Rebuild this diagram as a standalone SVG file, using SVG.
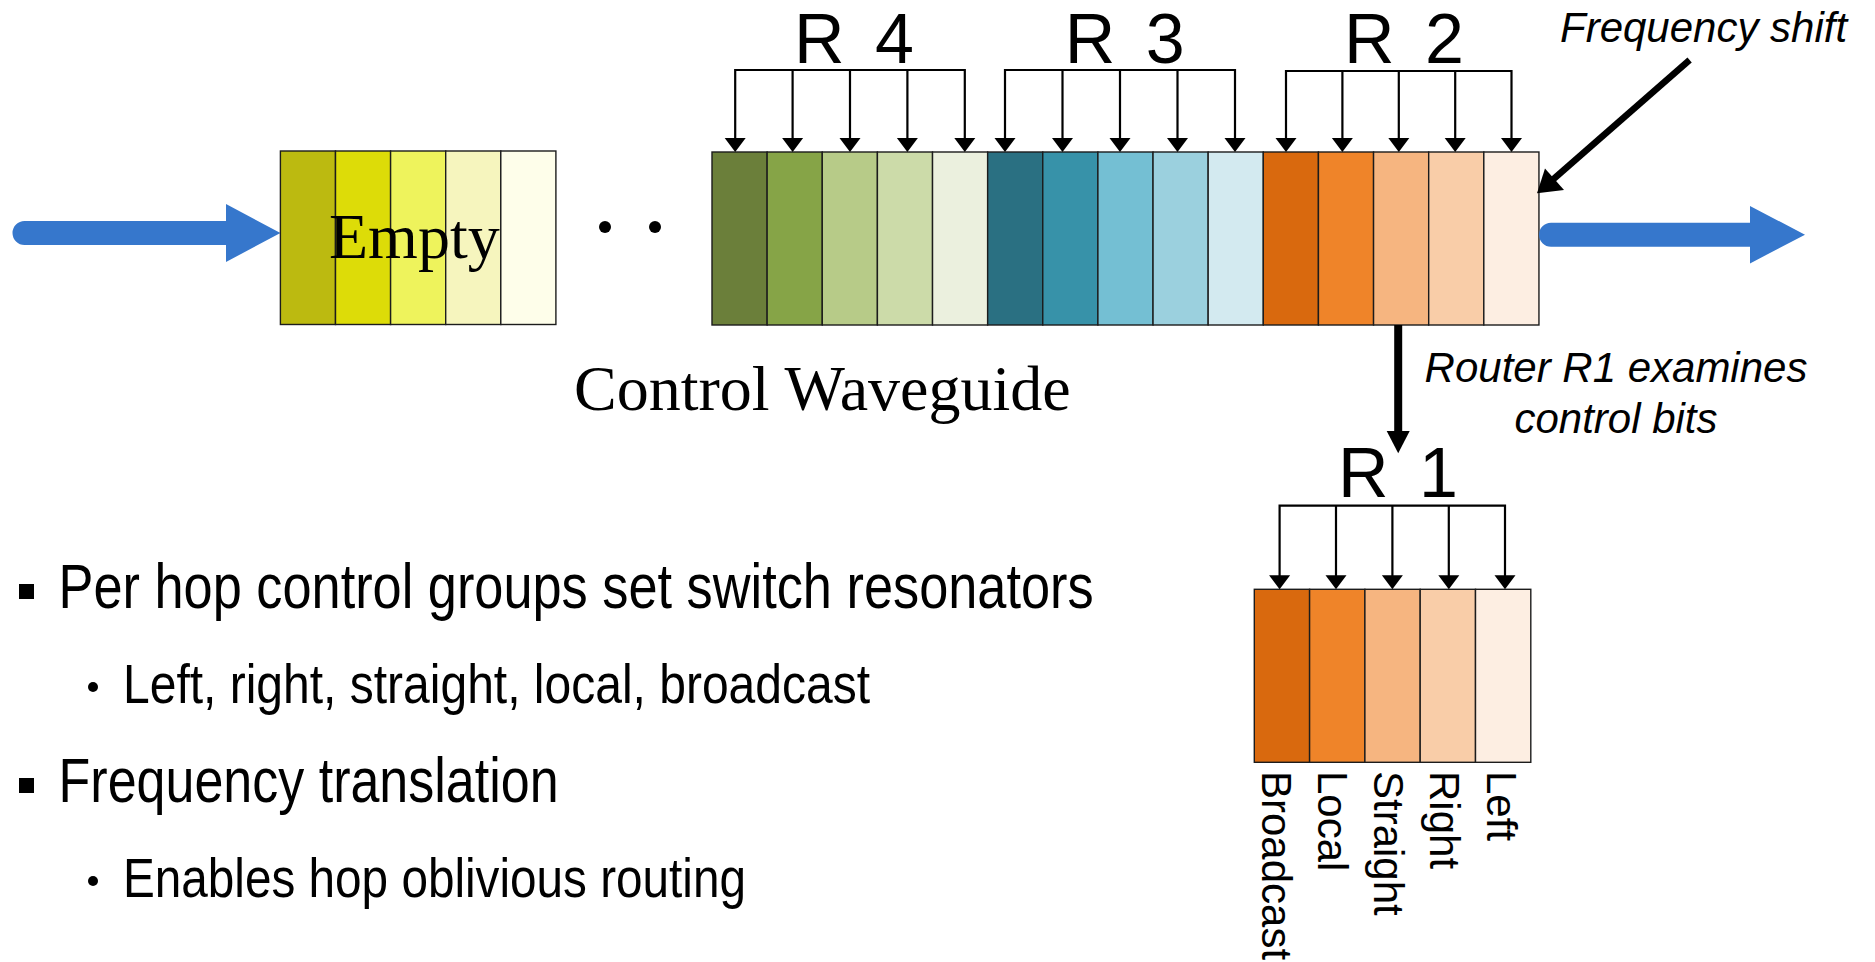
<svg xmlns="http://www.w3.org/2000/svg" width="1875" height="962" viewBox="0 0 1875 962">
  <style>
    .cell { stroke: #1c1c1c; stroke-width: 1.4; }
    .flow { fill: #3677CC; }
    .brk { fill: none; stroke: #000; stroke-width: 2.2; }
    .tip { fill: #000; }
    .rlab { font-family: "Liberation Sans", Arial, sans-serif; font-size: 70px; fill: #000; word-spacing: 11px; }
    .note { font-family: "Liberation Sans", Arial, sans-serif; font-size: 42px; font-style: italic; fill: #000; }
    .serif { font-family: "Liberation Serif", "Times New Roman", serif; font-size: 64px; fill: #000; }
    .vlab { font-family: "Liberation Sans", Arial, sans-serif; font-size: 42px; fill: #000; }
    .b1 { font-family: "Liberation Sans", Arial, sans-serif; font-size: 63px; fill: #000; }
    .b2 { font-family: "Liberation Sans", Arial, sans-serif; font-size: 56px; fill: #000; }
  </style>
  <defs>
    <!-- small downward arrowhead, tip at the origin -->
    <path id="dn" d="M -10.5 -14 L 10.5 -14 L 0 0 Z"/>
  </defs>

  <rect width="1875" height="962" fill="#fff"/>

  <!-- incoming light -->
  <g id="input-arrow">
    <path class="flow" d="M 24.5 221 H 226 V 204 L 280.4 233 L 226 262 V 245 H 24.5 A 12 12 0 0 1 24.5 221 Z"/>
  </g>

  <!-- empty slots -->
  <g id="empty-block">
    <rect class="cell" x="280.4" y="151" width="55.1" height="173.5" fill="#BCBA10"/>
    <rect class="cell" x="335.5" y="151" width="55.1" height="173.5" fill="#DDDC08"/>
    <rect class="cell" x="390.6" y="151" width="55.1" height="173.5" fill="#EEF35C"/>
    <rect class="cell" x="445.7" y="151" width="55.1" height="173.5" fill="#F6F5BE"/>
    <rect class="cell" x="500.8" y="151" width="55.1" height="173.5" fill="#FEFEEA"/>
    <text class="serif" x="329" y="258">Empty</text>
  </g>

  <g id="ellipsis">
    <circle cx="605" cy="227" r="6" fill="#000"/>
    <circle cx="655" cy="227" r="6" fill="#000"/>
  </g>

  <!-- control groups for routers 4, 3 and 2 -->
  <g id="group-r4">
    <rect class="cell" x="712" y="152" width="55.13" height="173" fill="#6B7F3A"/>
    <rect class="cell" x="767.13" y="152" width="55.13" height="173" fill="#86A447"/>
    <rect class="cell" x="822.27" y="152" width="55.13" height="173" fill="#B7CB88"/>
    <rect class="cell" x="877.4" y="152" width="55.13" height="173" fill="#CCDBA9"/>
    <rect class="cell" x="932.53" y="152" width="55.13" height="173" fill="#EBF0DE"/>
    <text class="rlab" x="794" y="62.7">R 4</text>
  </g>

  <g id="group-r3">
    <rect class="cell" x="987.65" y="152" width="55.13" height="173" fill="#2A7082"/>
    <rect class="cell" x="1042.78" y="152" width="55.13" height="173" fill="#3792A9"/>
    <rect class="cell" x="1097.91" y="152" width="55.13" height="173" fill="#74BFD3"/>
    <rect class="cell" x="1153.04" y="152" width="55.13" height="173" fill="#9BD0DE"/>
    <rect class="cell" x="1208.17" y="152" width="55.13" height="173" fill="#D3EAF0"/>
    <text class="rlab" x="1064.8" y="62.7">R 3</text>
  </g>

  <g id="group-r2">
    <rect class="cell" x="1263.3" y="152" width="55.13" height="173" fill="#D9690E"/>
    <rect class="cell" x="1318.43" y="152" width="55.13" height="173" fill="#EF8429"/>
    <rect class="cell" x="1373.56" y="152" width="55.13" height="173" fill="#F6B580"/>
    <rect class="cell" x="1428.69" y="152" width="55.13" height="173" fill="#F9CDA8"/>
    <rect class="cell" x="1483.82" y="152" width="55.13" height="173" fill="#FDEEE2"/>
    <text class="rlab" x="1344" y="63.3">R 2</text>
  </g>

  <!-- outgoing light -->
  <g id="output-arrow">
    <path class="flow" d="M 1551 222.7 H 1750 V 206 L 1805 234.7 L 1750 263.4 V 246.7 H 1551 A 12 12 0 0 1 1551 222.7 Z"/>
  </g>

  <g id="label-frequency-shift">
    <text class="note" x="1560" y="41.7">Frequency shift</text>
  </g>

  <g id="label-waveguide">
    <text class="serif" x="574" y="410">Control Waveguide</text>
  </g>

  <g id="label-router">
    <text class="note" x="1616" y="381.7" text-anchor="middle">Router R1 examines</text>
    <text class="note" x="1616" y="433.3" text-anchor="middle">control bits</text>
  </g>

  <!-- control group seen by router 1 -->
  <g id="group-r1">
    <rect class="cell" x="1254.3" y="589.3" width="55.3" height="173" fill="#D9690E"/>
    <rect class="cell" x="1309.6" y="589.3" width="55.3" height="173" fill="#EF8429"/>
    <rect class="cell" x="1364.9" y="589.3" width="55.3" height="173" fill="#F6B580"/>
    <rect class="cell" x="1420.2" y="589.3" width="55.3" height="173" fill="#F9CDA8"/>
    <rect class="cell" x="1475.5" y="589.3" width="55.3" height="173" fill="#FDEEE2"/>
    <text class="rlab" x="1338" y="496.7">R 1</text>
    <text class="vlab" transform="translate(1262 771) rotate(90)">Broadcast</text>
    <text class="vlab" transform="translate(1318 771) rotate(90)">Local</text>
    <text class="vlab" transform="translate(1374 771) rotate(90)">Straight</text>
    <text class="vlab" transform="translate(1430 771) rotate(90)">Right</text>
    <text class="vlab" transform="translate(1487 771) rotate(90)">Left</text>
  </g>

  <!-- bullet list -->
  <g id="bullets">
    <rect x="19" y="584" width="15" height="15" fill="#000"/>
    <text class="b1" x="58.6" y="608" textLength="1035" lengthAdjust="spacingAndGlyphs">Per hop control groups set switch resonators</text>
    <circle cx="93" cy="687" r="5" fill="#000"/>
    <text class="b2" x="123" y="703" textLength="747" lengthAdjust="spacingAndGlyphs">Left, right, straight, local, broadcast</text>
    <rect x="19" y="778" width="15" height="15" fill="#000"/>
    <text class="b1" x="58.6" y="801.7" textLength="500" lengthAdjust="spacingAndGlyphs">Frequency translation</text>
    <circle cx="93" cy="881" r="5" fill="#000"/>
    <text class="b2" x="123" y="897" textLength="623" lengthAdjust="spacingAndGlyphs">Enables hop oblivious routing</text>
  </g>

  <g id="connectors">
    <!-- R4 fan-out -->
    <path class="brk" d="M 735.2 139 V 70 H 964.8 V 139 M 792.6 70 V 139 M 850 70 V 139 M 907.4 70 V 139"/>
    <use href="#dn" x="735.2" y="152"/><use href="#dn" x="792.6" y="152"/><use href="#dn" x="850" y="152"/><use href="#dn" x="907.4" y="152"/><use href="#dn" x="964.8" y="152"/>
    <!-- R3 fan-out -->
    <path class="brk" d="M 1005 139 V 70 H 1235 V 139 M 1062.5 70 V 139 M 1120 70 V 139 M 1177.5 70 V 139"/>
    <use href="#dn" x="1005" y="152"/><use href="#dn" x="1062.5" y="152"/><use href="#dn" x="1120" y="152"/><use href="#dn" x="1177.5" y="152"/><use href="#dn" x="1235" y="152"/>
    <!-- R2 fan-out -->
    <path class="brk" d="M 1286 139 V 71 H 1511.5 V 139 M 1342.4 71 V 139 M 1398.8 71 V 139 M 1455.2 71 V 139"/>
    <use href="#dn" x="1286" y="152"/><use href="#dn" x="1342.4" y="152"/><use href="#dn" x="1398.8" y="152"/><use href="#dn" x="1455.2" y="152"/><use href="#dn" x="1511.5" y="152"/>
    <!-- R1 fan-out -->
    <path class="brk" d="M 1279.6 577 V 505.7 H 1505 V 577 M 1336 505.7 V 577 M 1392.4 505.7 V 577 M 1448.8 505.7 V 577"/>
    <use href="#dn" x="1279.6" y="589.3"/><use href="#dn" x="1336" y="589.3"/><use href="#dn" x="1392.4" y="589.3"/><use href="#dn" x="1448.8" y="589.3"/><use href="#dn" x="1505" y="589.3"/>
    <!-- frequency shift pointer -->
    <line x1="1689.6" y1="60" x2="1553" y2="179.5" stroke="#000" stroke-width="6.5"/>
    <path class="tip" d="M 1537 193.3 L 1545 168.5 L 1564 190 Z"/>
    <!-- tap to router 1 -->
    <line x1="1398.2" y1="325" x2="1398.2" y2="433" stroke="#000" stroke-width="8"/>
    <path class="tip" d="M 1386.7 431 L 1409.7 431 L 1398.2 453.3 Z"/>
  </g>
</svg>
